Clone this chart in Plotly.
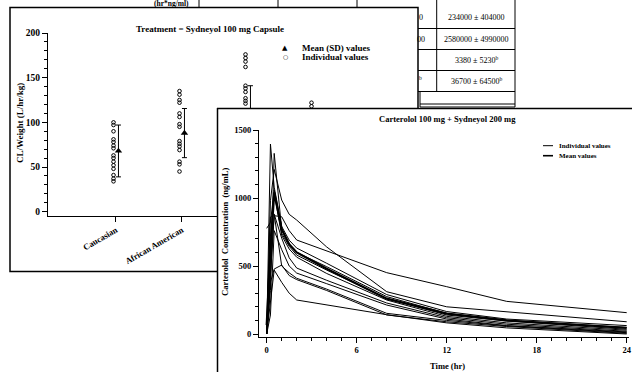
import plotly.graph_objects as go

# ---------------- data: scatter panel ----------------
categories = ["Caucasian", "African American", "Asian", "Other"]
caucasian_vals = [100, 97, 90, 81, 78, 74, 71, 63, 60, 56, 52, 48, 41, 37, 34]
african_american_vals = [135, 131, 125, 122, 110, 106, 98, 95, 79, 76, 73, 69, 56, 53, 45]
asian_vals = [176, 172, 168, 162, 141, 138, 134, 127, 124, 121, 112, 100, 92, 85, 74, 66]
other_vals = [122, 118, 105, 96, 88, 80, 74, 65, 58, 50]
group_means = [68, 88, 105, 84]
group_sds = [29, 27.5, 36, 25]

# ---------------- data: concentration-time panel ----------------
times = [0, 0.25, 0.5, 1, 1.5, 2, 4, 8, 12, 16, 24]
subj01 = [0, 420, 870, 862, 760, 691, 610, 451, 348, 240, 157]
subj02 = [0, 980, 1210, 985, 880, 838, 640, 311, 200, 162, 90]
subj03 = [0, 1397, 1080, 790, 690, 632, 520, 290, 165, 110, 62]
subj04 = [0, 320, 1328, 770, 660, 600, 495, 275, 152, 100, 48]
subj05 = [777, 820, 1060, 740, 645, 580, 470, 262, 140, 95, 35]
subj06 = [0, 720, 1040, 725, 625, 565, 445, 250, 130, 82, 28]
subj07 = [0, 860, 880, 705, 560, 485, 395, 228, 120, 72, 20]
subj08 = [0, 140, 760, 620, 500, 448, 370, 213, 110, 62, 15]
subj09 = [0, 470, 880, 500, 450, 410, 330, 152, 100, 60, 10]
subj10 = [0, 380, 478, 507, 430, 400, 320, 140, 90, 55, 5]
subj11 = [0, 220, 470, 380, 300, 250, 215, 142, 82, 45, 0]
mean_conc = [65, 610, 1040, 770, 660, 600, 480, 260, 150, 100, 45]
individuals = [subj01, subj02, subj03, subj04, subj05, subj06,
               subj07, subj08, subj09, subj10, subj11]

# ---------------- table cell texts ----------------
table_texts = ["234000 ± 404000", "2580000 ± 4990000",
               "3380 ± 5230<sup>b</sup>", "36700 ± 64500<sup>b</sup>"]

W, H = 632, 372
def fx(px):
    return px / W
def fy(py):
    return 1 - py / H

SERIF = "Liberation Serif, Times New Roman, serif"
def bfont(size):
    return dict(family=SERIF, size=size, color="#000000", weight="bold")

fig = go.Figure()

# ---- subplot 1: scatter chart ----
ind_x, ind_y = [], []
for cat, vals in zip(categories, [caucasian_vals, african_american_vals, asian_vals, other_vals]):
    ind_x += [cat] * len(vals)
    ind_y += vals

fig.add_trace(go.Scatter(
    x=ind_x, y=ind_y, mode="markers", name="Individual values",
    marker=dict(symbol="circle-open", size=3.6, color="black", line=dict(width=1, color="black")),
    xaxis="x", yaxis="y", offsetgroup="ind", cliponaxis=True, showlegend=False))
fig.add_trace(go.Scatter(
    x=categories, y=group_means, mode="markers", name="Mean (SD) values",
    marker=dict(symbol="triangle-up", size=6.5, color="black"),
    error_y=dict(type="data", array=group_sds, visible=True, color="black", thickness=1, width=2.5),
    xaxis="x", yaxis="y", offsetgroup="mean", cliponaxis=True, showlegend=False))

# ---- subplot 2: opaque panel of the second chart (covers the first) ----
fig.add_trace(go.Scatter(x=[None], y=[None], mode="markers", xaxis="x2", yaxis="y2",
                         showlegend=False, hoverinfo="skip"))

# ---- subplot 3: concentration-time lines ----
for i, s in enumerate(individuals):
    fig.add_trace(go.Scatter(x=times, y=s, mode="lines", line=dict(color="black", width=1),
                             xaxis="x3", yaxis="y3", offsetgroup="L", showlegend=False,
                             name="Individual values"))
fig.add_trace(go.Scatter(x=times, y=mean_conc, mode="lines", line=dict(color="black", width=2.2),
                         xaxis="x3", yaxis="y3", offsetgroup="L", showlegend=False,
                         name="Mean values"))

axis_common = dict(showgrid=False, zeroline=False, showline=True, linecolor="black",
                   linewidth=1, ticks="outside", tickcolor="black", tickwidth=1)

fig.update_layout(
    template="none",
    font=dict(family=SERIF, color="#000000"),
    width=W, height=H, margin=dict(l=0, r=0, t=0, b=0, pad=0),
    paper_bgcolor="white", plot_bgcolor="white", showlegend=False,
    scattermode="group", scattergap=0.85,
    xaxis=dict(axis_common, type="category", categoryorder="array", categoryarray=categories,
               domain=[fx(48), fx(418)], range=[-1.03, 4.576], anchor="y",
               ticklen=5, tickangle=-30, tickfont=bfont(8.5)),
    yaxis=dict(axis_common, domain=[fy(216), fy(33)], range=[-4.8, 200], anchor="x",
               tickvals=[0, 50, 100, 150, 200], ticklen=5, tickfont=bfont(9.5),
               minor=dict(dtick=10, ticks="outside", ticklen=3, tickcolor="black", showgrid=False)),
    xaxis2=dict(visible=False, domain=[fx(217), 1], range=[0, 1], anchor="y2"),
    yaxis2=dict(visible=False, domain=[0, fy(108)], range=[0, 1], anchor="x2"),
    xaxis3=dict(axis_common, domain=[fx(259), fx(629)], range=[-0.513, 24.153], anchor="y3",
                tickvals=[0, 6, 12, 18, 24], ticklen=5, tickfont=bfont(8.5),
                minor=dict(dtick=1, ticks="outside", ticklen=3, tickcolor="black", showgrid=False)),
    yaxis3=dict(axis_common, domain=[fy(337), fy(130)], range=[-22, 1500], anchor="x3",
                tickvals=[0, 500, 1000, 1500], ticklen=5, tickfont=bfont(8.5),
                minor=dict(dtick=100, ticks="outside", ticklen=3, tickcolor="black", showgrid=False)),
)

shapes = []
def line(x0, y0, x1, y1, w=1, layer="below"):
    shapes.append(dict(type="line", xref="paper", yref="paper", x0=fx(x0), y0=fy(y0),
                       x1=fx(x1), y1=fy(y1), line=dict(color="black", width=w), layer=layer))

# table lines (visible parts only)
for xv in [199, 278, 357]:
    line(xv, 0, xv, 7.5)
line(436.7, 0, 436.7, 91.5)
line(515, 0, 515, 107)
line(420, 91.5, 420, 107)
for yv in [28.5, 49.5, 70.5, 91.5]:
    line(418, yv, 515, yv)
line(420, 104, 515, 104)
line(420, 107, 515, 107)

# scatter panel frame (below the opaque second panel)
shapes.append(dict(type="rect", xref="paper", yref="paper", x0=fx(10), y0=fy(271.5),
                   x1=fx(418), y1=fy(7.5), line=dict(color="black", width=1.5), layer="below"))
# second panel frame (on top)
line(217, 108.5, 640, 108.5, w=1.5, layer="above")
line(217.5, 108, 217.5, 380, w=1.5, layer="above")
# legend keys of the line chart
line(543, 145.7, 553, 145.7, w=1, layer="above")
line(543, 155.7, 553, 155.7, w=1.6, layer="above")

fig.update_layout(shapes=shapes)

ann = []
def text(x, y, t, font, xanchor="center", yanchor="middle", angle=0):
    ann.append(dict(xref="paper", yref="paper", x=fx(x), y=fy(y), text=t, showarrow=False,
                    font=font, xanchor=xanchor, yanchor=yanchor, textangle=angle))

# table texts
tf = dict(family=SERIF, size=8, color="#000000")
for t, yv in zip(table_texts, [18, 39, 60, 81]):
    text(476, yv, t, tf)
text(171, 3.5, "(hr*ng/ml)", bfont(7.5))
text(416.5, 18, "0", tf, xanchor="left")
text(415, 39, "00", tf, xanchor="left")
text(416.5, 78, "<sup>b</sup>", tf, xanchor="left")

# scatter chart texts
text(210, 29, "Treatment = Sydneyol 100 mg Capsule", bfont(9))
text(285, 48, "▲", dict(family="DejaVu Sans", size=7, color="#000000"))
text(285, 57, "○", dict(family="DejaVu Sans", size=6, color="#000000"))
text(300, 48, "Mean (SD) values", bfont(9), xanchor="left")
text(300, 57, "Individual values", bfont(9), xanchor="left")
text(20, 123, "CL/Weight (L/hr/kg)", bfont(9), angle=-90)

# line chart texts
text(447, 119, "Carterolol 100 mg + Sydneyol 200 mg", bfont(8.5))
text(557, 145.7, "Individual values", bfont(7), xanchor="left")
text(557, 155.7, "Mean values", bfont(7), xanchor="left")
text(225, 232, "Carterolol\u00a0 Concentration\u00a0 (ng/mL)", bfont(8.5), angle=-90)
text(447, 366, "Time (hr)", bfont(8.5))

fig.update_layout(annotations=ann)

fig.write_html("out.html", config={"displayModeBar": False},
               post_script="document.body.style.margin='0';document.body.style.overflow='hidden';")
